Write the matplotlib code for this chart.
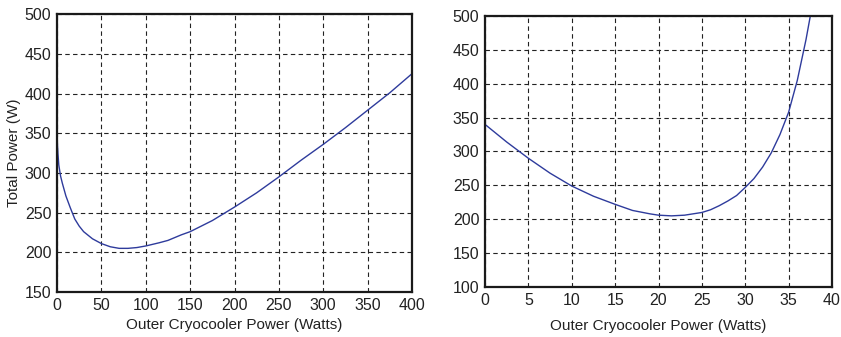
import matplotlib.pyplot as plt
import numpy as np

plt.rcParams['font.family'] = ['Liberation Sans', 'DejaVu Sans']

# left panel: outer cryocooler power 0-400 W
left_x = [0, 1, 2, 4, 6, 8, 10, 15, 20, 25, 30, 40, 50, 60, 70, 80, 90, 100,
          115, 125, 140, 150, 175, 200, 225, 250, 275, 300, 325, 350, 375, 400]
left_y = [345, 325, 310, 296, 287, 279, 271, 256, 242, 233, 226, 217, 211, 207, 205, 205, 206, 208,
          212, 215, 222, 226, 240, 257, 275, 295, 316, 336, 357, 379, 401, 425]

# right panel: outer cryocooler power 0-40 W
right_x = [0, 2.5, 5, 7.5, 10, 12.5, 15, 17, 19, 20, 21.5, 23, 25, 26, 27, 28, 29, 30,
           31, 32, 33, 34, 35, 36, 37, 37.5]
right_y = [340, 314, 290, 268, 249, 234, 222, 213, 208, 206, 205, 206, 210, 214, 220, 227, 235, 247,
           260, 277, 298, 325, 358, 405, 465, 500]

line_color = '#2e3b9c'
xlabel = 'Outer Cryocooler Power (Watts)'

fig = plt.figure(figsize=(8.41, 3.37), dpi=100)
ax1 = fig.add_axes([0.0678, 0.1335, 0.4221, 0.8245])
ax2 = fig.add_axes([0.5767, 0.1484, 0.4126, 0.8041])

ax1.plot(left_x, left_y, color=line_color, lw=1.0)
ax1.set_xlim(0, 400)
ax1.set_ylim(150, 500)
ax1.set_xticks(np.arange(0, 401, 50))
ax1.set_yticks(np.arange(150, 501, 50))
ax1.set_ylabel('Total Power (W)', fontsize=11, labelpad=3, color='#222222')
ax1.set_xlabel(xlabel, fontsize=11, color='#222222', labelpad=4)

ax2.plot(right_x, right_y, color=line_color, lw=1.0)
ax2.set_xlim(0, 40)
ax2.set_ylim(100, 500)
ax2.set_xticks(np.arange(0, 41, 5))
ax2.set_yticks(np.arange(100, 501, 50))
ax2.set_xlabel(xlabel, fontsize=11, color='#222222', labelpad=8)

for ax in (ax1, ax2):
    ax.grid(True, color='#222222', linestyle=(0, (4, 3)), linewidth=0.8)
    ax.tick_params(length=0, labelsize=11.5, pad=4, colors='#222222')
    for s in ax.spines.values():
        s.set_linewidth(1.6)
        s.set_color('#1a1a1a')

fig.savefig('out.png', dpi=100)
